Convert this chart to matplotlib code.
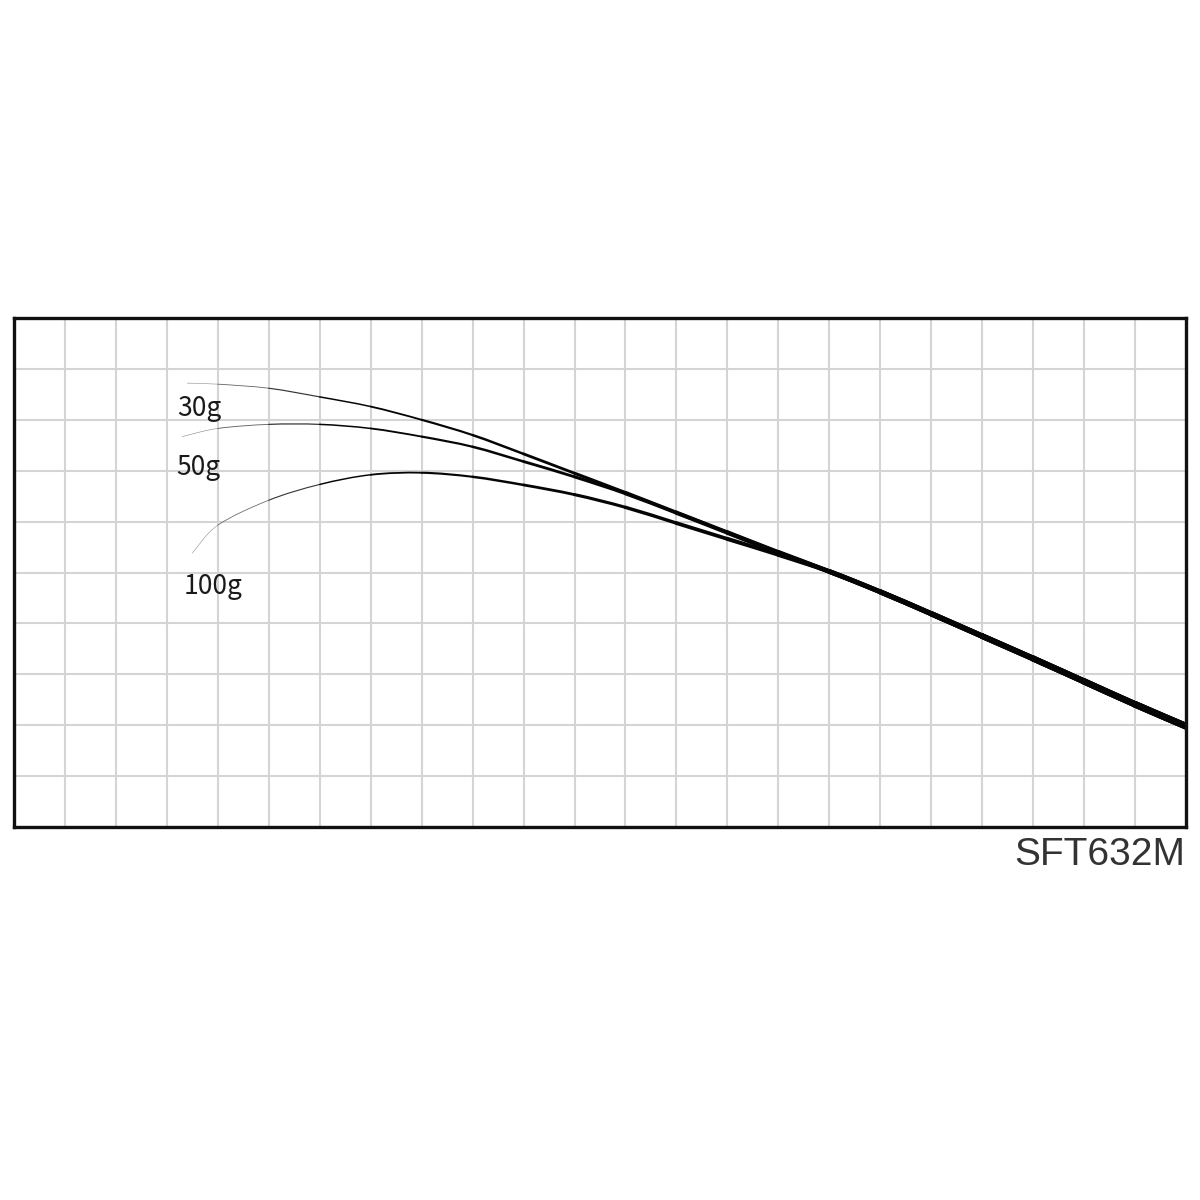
import numpy as np
import matplotlib
matplotlib.use("Agg")
import matplotlib.pyplot as plt
from matplotlib.path import Path
from matplotlib.patches import PathPatch

# rod bend curves (grid units: x 0..23 along the frame, y 0..10 from the bottom)
x_30g = [3.4, 4, 5, 6, 7, 8, 9, 10, 11, 12, 13, 14, 15, 16]
y_30g = [8.72, 8.70, 8.62, 8.45, 8.26, 8.00, 7.70, 7.33, 6.95, 6.57, 6.18, 5.79, 5.40, 5.02]

x_50g = [3.3, 4, 5, 6, 7, 8, 9, 10, 11, 12, 13, 14, 15, 16]
y_50g = [7.67, 7.83, 7.91, 7.91, 7.83, 7.67, 7.47, 7.18, 6.88, 6.55, 6.17, 5.78, 5.39, 5.02]

x_100g = [3.5, 4, 5, 6, 7, 8, 9, 10, 11, 12, 13, 14, 15, 16]
y_100g = [5.38, 5.93, 6.42, 6.73, 6.92, 6.96, 6.88, 6.72, 6.53, 6.28, 5.97, 5.66, 5.35, 5.02]

# shared butt section where the three curves overlap
x_tail = [17, 18, 19, 20, 21, 22, 23]
y_tail = [4.62, 4.19, 3.75, 3.31, 2.86, 2.41, 1.98]

labels = ["30g", "50g", "100g"]
label_pos = [(3.63, 8.22), (3.61, 7.06), (3.90, 4.72)]
model_name = "SFT632M"

fig = plt.figure(figsize=(12, 12), dpi=100)
ax = fig.add_axes([14 / 1200, (1200 - 827) / 1200, 1172 / 1200, 509 / 1200])
ax.set_xlim(0, 23)
ax.set_ylim(0, 10)
ax.set_xticks(np.arange(0, 24))
ax.set_yticks(np.arange(0, 11))
ax.grid(True, color="#d4d4d4", linewidth=1.5)
ax.set_axisbelow(True)
ax.tick_params(length=0, labelbottom=False, labelleft=False)
for sp in ax.spines.values():
    sp.set_linewidth(2.4)
    sp.set_color("#111111")


def draw_curve(xs, ys):
    # smooth bezier pieces through the points, getting heavier toward the butt
    p = np.column_stack([list(xs) + x_tail, list(ys) + y_tail]).astype(float)
    n = len(p)
    x0 = p[0, 0]
    for i in range(n - 1):
        a = p[max(i - 1, 0)]
        b, c = p[i], p[i + 1]
        d = p[min(i + 2, n - 1)]
        c1 = b + (c - a) / 6
        c2 = c - (d - b) / 6
        path = Path([b, c1, c2, c], [Path.MOVETO, Path.CURVE4, Path.CURVE4, Path.CURVE4])
        mid = (b[0] + c[0]) / 2
        t = (mid - x0) / (23 - x0)
        f = min(max((mid - x0) / 3.0, 0), 1)
        g = 0.62 * (1 - f) + 0.02 * f
        ax.add_patch(PathPatch(path, fill=False, lw=0.35 + 4.6 * t,
                               edgecolor=(g, g, g), capstyle="round"))


draw_curve(x_30g, y_30g)
draw_curve(x_50g, y_50g)
draw_curve(x_100g, y_100g)

for lab, (lx, ly) in zip(labels, label_pos):
    ax.text(lx, ly, lab, ha="center", va="center", fontsize=19,
            family=["Noto Sans CJK JP", "DejaVu Sans"], color="#1a1a1a")

fig.text(1185 / 1200, 1 - 865 / 1200, model_name, ha="right", va="baseline",
         fontsize=28, family="Liberation Sans", color="#333333")

fig.savefig("out.png", dpi=100, facecolor="white")
